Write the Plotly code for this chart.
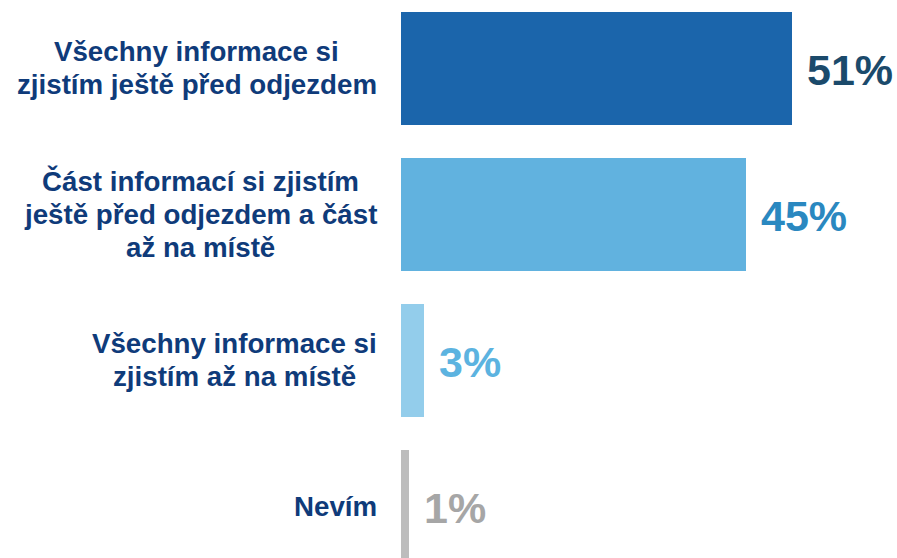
import plotly.graph_objects as go

categories = [
    "Všechny informace si<br>zjistím ještě před odjezdem",
    "Část informací si zjistím<br>ještě před odjezdem a část<br>až na místě",
    "Všechny informace si<br>zjistím až na místě",
    "Nevím",
]
values = [51, 45, 3, 1]
bar_colors = ["#1b65ab", "#61b2df", "#93cdeb", "#bdbdbd"]
value_colors = ["#1b4a6b", "#2a88c0", "#5cb3e0", "#a6a6a6"]
label_color = "#0f3b7a"

FONT = "Liberation Sans, Arial, sans-serif"
LABEL_SIZE = 27.7
LINE_STEP = 33      # px between label lines
LABEL_GAP = 24      # px between label block and the bars

# Advance widths (1/1000 em) of Arial Bold / Liberation Sans Bold,
# used to centre each label line inside its right-aligned block.
ADV = {
    " ": 278, "a": 556, "á": 556, "c": 556, "d": 611, "e": 556, "ě": 556,
    "f": 333, "h": 611, "i": 278, "í": 278, "j": 278, "m": 889, "n": 611,
    "o": 611, "p": 611, "r": 389, "ř": 389, "s": 556, "š": 556, "t": 333,
    "v": 556, "y": 556, "z": 500, "ž": 500, "V": 667, "Č": 722, "N": 722,
}


def text_width(s, size):
    return sum(ADV.get(ch, 556) for ch in s) / 1000 * size


positions = list(range(len(categories)))

fig = go.Figure()
fig.add_trace(go.Bar(
    x=values,
    y=positions,
    orientation="h",
    marker=dict(color=bar_colors, line=dict(width=0)),
    width=0.774,
    hoverinfo="skip",
))

annotations = []
for pos, cat, val, vcol in zip(positions, categories, values, value_colors):
    lines = cat.split("<br>")
    block_w = max(text_width(ln, LABEL_SIZE) for ln in lines)
    centre_shift = -(LABEL_GAP + block_w / 2)
    n = len(lines)
    for i, ln in enumerate(lines):
        annotations.append(dict(
            x=0, y=pos, xref="paper", yref="y",
            text=f"<b>{ln}</b>", showarrow=False,
            xanchor="center", yanchor="middle",
            xshift=centre_shift,
            yshift=-(i - (n - 1) / 2) * LINE_STEP,
            font=dict(family=FONT, size=LABEL_SIZE, color=label_color),
        ))
    annotations.append(dict(
        x=val, y=pos, xref="x", yref="y",
        text=f"<b>{val}%</b>", showarrow=False,
        xanchor="left", yanchor="middle",
        xshift=13, yshift=-2,
        font=dict(family=FONT, size=43, color=vcol),
    ))

fig.update_layout(
    width=897, height=558,
    margin=dict(l=401, r=0, t=0, b=0),
    paper_bgcolor="white", plot_bgcolor="white",
    showlegend=False,
    bargap=0,
    xaxis=dict(range=[0, 496 / 7.67], visible=False, fixedrange=True),
    yaxis=dict(range=[3.353, -0.469], visible=False, fixedrange=True),
    annotations=annotations,
)

fig.write_html("out.html")
